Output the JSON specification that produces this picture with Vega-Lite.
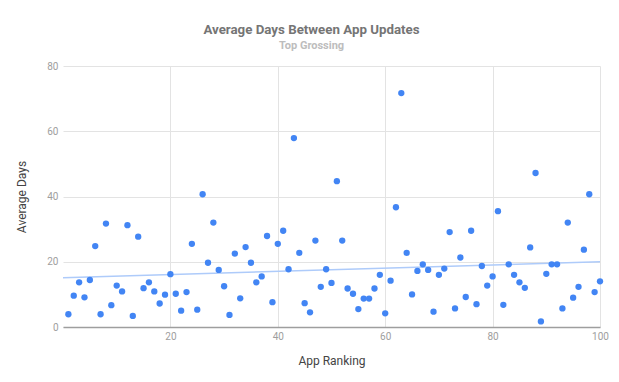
{
  "$schema": "https://vega.github.io/schema/vega-lite/v6.json",
  "autosize": "none",
  "width": 537,
  "height": 261,
  "padding": {"left": 63, "top": 66, "right": 19, "bottom": 55},
  "background": "white",
  "title": {
    "text": "Average Days Between App Updates",
    "subtitle": "Top Grossing",
    "anchor": "middle",
    "dx": -20,
    "offset": 10,
    "font": "Roboto",
    "fontSize": 13.3,
    "fontWeight": "bold",
    "color": "#757575",
    "subtitleFont": "Roboto",
    "subtitleFontSize": 11,
    "subtitleFontWeight": "bold",
    "subtitleColor": "#bdbdbd",
    "subtitlePadding": 4
  },
  "config": {
    "view": {"stroke": null},
    "axis": {
      "labelFont": "Roboto",
      "labelFontSize": 10,
      "labelColor": "#9e9e9e",
      "titleFont": "Roboto",
      "titleFontSize": 12,
      "titleFontWeight": "normal",
      "titleColor": "#444444",
      "gridColor": "#e3e3e3",
      "gridWidth": 1,
      "ticks": false,
      "labelFlush": false
    }
  },
  "data": {
    "values": [
      {"rank": 1, "days": 3.9}, {"rank": 2, "days": 9.6}, {"rank": 3, "days": 13.7}, {"rank": 4, "days": 9.1}, {"rank": 5, "days": 14.4},
      {"rank": 6, "days": 24.8}, {"rank": 7, "days": 3.9}, {"rank": 8, "days": 31.7}, {"rank": 9, "days": 6.7}, {"rank": 10, "days": 12.7},
      {"rank": 11, "days": 10.9}, {"rank": 12, "days": 31.2}, {"rank": 13, "days": 3.4}, {"rank": 14, "days": 27.7}, {"rank": 15, "days": 11.9},
      {"rank": 16, "days": 13.7}, {"rank": 17, "days": 10.9}, {"rank": 18, "days": 7.2}, {"rank": 19, "days": 9.9}, {"rank": 20, "days": 16.2},
      {"rank": 21, "days": 10.2}, {"rank": 22, "days": 5.0}, {"rank": 23, "days": 10.7}, {"rank": 24, "days": 25.5}, {"rank": 25, "days": 5.3},
      {"rank": 26, "days": 40.7}, {"rank": 27, "days": 19.7}, {"rank": 28, "days": 32.0}, {"rank": 29, "days": 17.5}, {"rank": 30, "days": 12.5},
      {"rank": 31, "days": 3.7}, {"rank": 32, "days": 22.5}, {"rank": 33, "days": 8.8}, {"rank": 34, "days": 24.5}, {"rank": 35, "days": 19.7},
      {"rank": 36, "days": 13.7}, {"rank": 37, "days": 15.5}, {"rank": 38, "days": 27.9}, {"rank": 39, "days": 7.6}, {"rank": 40, "days": 25.5},
      {"rank": 41, "days": 29.5}, {"rank": 42, "days": 17.7}, {"rank": 43, "days": 57.9}, {"rank": 44, "days": 22.7}, {"rank": 45, "days": 7.3},
      {"rank": 46, "days": 4.5}, {"rank": 47, "days": 26.5}, {"rank": 48, "days": 12.3}, {"rank": 49, "days": 17.7}, {"rank": 50, "days": 13.5},
      {"rank": 51, "days": 44.7}, {"rank": 52, "days": 26.5}, {"rank": 53, "days": 11.8}, {"rank": 54, "days": 10.2}, {"rank": 55, "days": 5.5},
      {"rank": 56, "days": 8.7}, {"rank": 57, "days": 8.7}, {"rank": 58, "days": 11.8}, {"rank": 59, "days": 16.0}, {"rank": 60, "days": 4.2},
      {"rank": 61, "days": 14.2}, {"rank": 62, "days": 36.7}, {"rank": 63, "days": 71.7}, {"rank": 64, "days": 22.7}, {"rank": 65, "days": 10.0},
      {"rank": 66, "days": 17.2}, {"rank": 67, "days": 19.2}, {"rank": 68, "days": 17.5}, {"rank": 69, "days": 4.7}, {"rank": 70, "days": 16.0},
      {"rank": 71, "days": 17.9}, {"rank": 72, "days": 29.1}, {"rank": 73, "days": 5.7}, {"rank": 74, "days": 21.3}, {"rank": 75, "days": 9.2},
      {"rank": 76, "days": 29.5}, {"rank": 77, "days": 7.0}, {"rank": 78, "days": 18.7}, {"rank": 79, "days": 12.7}, {"rank": 80, "days": 15.5},
      {"rank": 81, "days": 35.5}, {"rank": 82, "days": 6.8}, {"rank": 83, "days": 19.2}, {"rank": 84, "days": 16.0}, {"rank": 85, "days": 13.7},
      {"rank": 86, "days": 12.0}, {"rank": 87, "days": 24.4}, {"rank": 88, "days": 47.2}, {"rank": 89, "days": 1.7}, {"rank": 90, "days": 16.3},
      {"rank": 91, "days": 19.2}, {"rank": 92, "days": 19.2}, {"rank": 93, "days": 5.7}, {"rank": 94, "days": 32.0}, {"rank": 95, "days": 9.0},
      {"rank": 96, "days": 12.3}, {"rank": 97, "days": 23.7}, {"rank": 98, "days": 40.7}, {"rank": 99, "days": 10.7}, {"rank": 100, "days": 14.0}
    ]
  },
  "layer": [
    {
      "transform": [{"regression": "days", "on": "rank", "extent": [0, 100]}],
      "mark": {"type": "line", "color": "#aecbfa", "strokeWidth": 1.5},
      "encoding": {
        "x": {"field": "rank", "type": "quantitative"},
        "y": {"field": "days", "type": "quantitative"}
      }
    },
    {
      "mark": {"type": "circle", "size": 40, "color": "#4285f4", "opacity": 1},
      "encoding": {
        "x": {
          "field": "rank",
          "type": "quantitative",
          "title": "App Ranking",
          "scale": {"domain": [0, 100], "nice": false, "zero": true},
          "axis": {
            "values": [20, 40, 60, 80, 100],
            "grid": true,
            "domainColor": "#9e9e9e",
            "domainWidth": 1.5,
            "labelPadding": 4,
            "titlePadding": 14
          }
        },
        "y": {
          "field": "days",
          "type": "quantitative",
          "title": "Average Days",
          "scale": {"domain": [0, 80], "nice": false},
          "axis": {
            "values": [0, 20, 40, 60, 80],
            "domain": false,
            "labelPadding": 5,
            "titlePadding": 18
          }
        }
      }
    }
  ]
}
